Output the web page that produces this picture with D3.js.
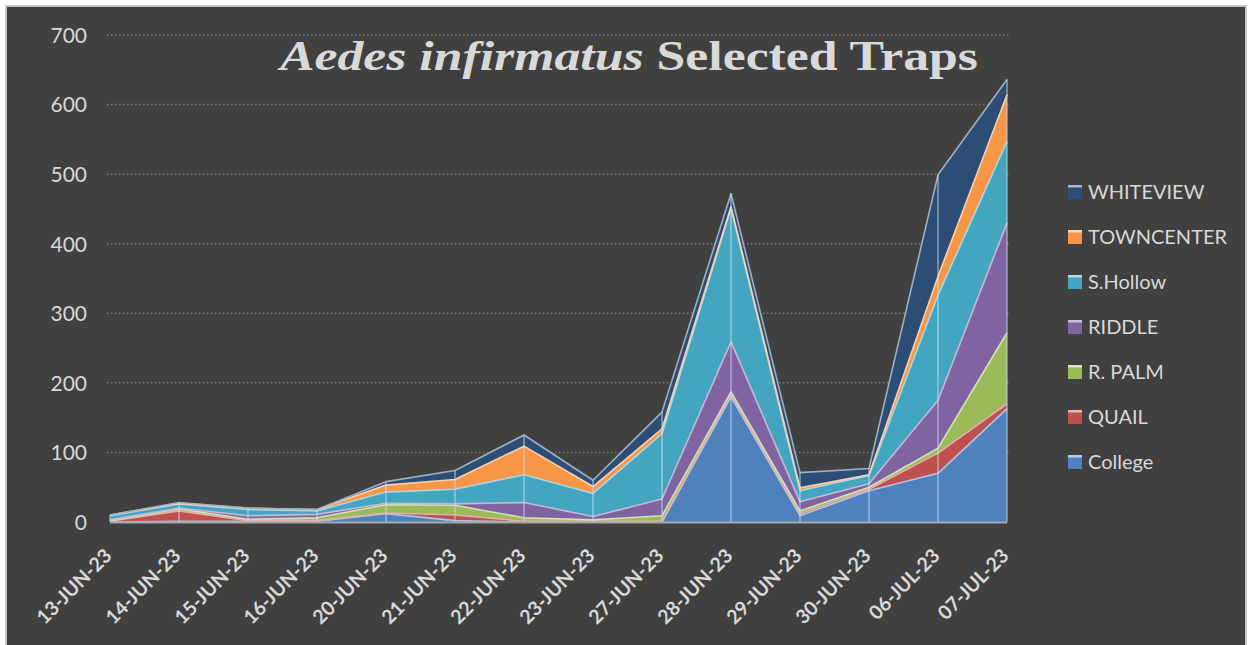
<!DOCTYPE html>
<html>
<head>
<meta charset="utf-8">
<script src="https://cdn.jsdelivr.net/npm/d3@7"></script>
<style>
html,body{margin:0;padding:0;background:#ffffff;}
svg{display:block;}
</style>
</head>
<body>
<svg id="chart" width="1252" height="645"></svg>
<script>
// ---- DATA ----
const categories = ["13-JUN-23","14-JUN-23","15-JUN-23","16-JUN-23","20-JUN-23","21-JUN-23","22-JUN-23","23-JUN-23","27-JUN-23","28-JUN-23","29-JUN-23","30-JUN-23","06-JUL-23","07-JUL-23"];
const seriesNames = ["College","QUAIL","R. PALM","RIDDLE","S.Hollow","TOWNCENTER","WHITEVIEW"];
const college    = [0, 1, 1, 1, 12, 2, 0, 0, 0, 180, 9, 45, 70, 163];
const quail      = [1, 15, 1, 1, 1, 8, 1, 1, 1, 3, 3, 2, 29, 7];
const rpalm      = [1, 3, 2, 4, 12, 14, 5, 2, 8, 4, 4, 3, 7, 102];
const riddle     = [1, 1, 5, 5, 2, 2, 22, 5, 24, 72, 13, 5, 69, 158];
const shollow    = [6, 6, 9, 5, 16, 21, 40, 33, 94, 192, 16, 12, 151, 117];
const towncenter = [1, 1, 2, 2, 10, 14, 41, 10, 7, 2, 4, 1, 27, 67];
const whiteview  = [0, 1, 0, 0, 5, 13, 16, 9, 24, 19, 22, 9, 146, 22];
const yTicks = [0,100,200,300,400,500,600,700];
const colors = ["#4f81bd","#c0504d","#9bbb59","#8064a2","#44a5c0","#f79646","#2c4d75"];

const seriesValues = [college, quail, rpalm, riddle, shollow, towncenter, whiteview];
const table = categories.map((c,i)=>{
  const row = {cat:c};
  seriesNames.forEach((s,j)=>row[s]=seriesValues[j][i]);
  return row;
});

// ---- LAYOUT ----
const svg = d3.select("#chart");
svg.append("rect").attr("x",6).attr("y",6).attr("width",1240).attr("height",660)
  .attr("fill","#404040").attr("stroke","#c4c4c4").attr("stroke-width",2);

const x = d3.scalePoint().domain(categories).range([110,1007]);
const y = d3.scaleLinear().domain([0,700]).range([522,35]);

// gridlines
svg.append("g").selectAll("line").data(yTicks.filter(d=>d>0)).join("line")
  .attr("x1",107).attr("x2",1010)
  .attr("y1",d=>y(d)).attr("y2",d=>y(d))
  .attr("stroke","#7a7a7a").attr("stroke-width",1.5).attr("stroke-dasharray","1.5,2.5");

// y labels
const yAxis = d3.axisLeft(y).tickValues(yTicks).tickSize(0).tickPadding(0);
const gy = svg.append("g").attr("transform","translate(87,0)").call(yAxis);
gy.select(".domain").remove();
gy.selectAll("text").attr("fill","#d9d9d9").attr("font-family","Lato, 'Open Sans', sans-serif")
  .attr("font-size",21).attr("dy","0.35em");

// stacked areas
const stack = d3.stack().keys(seriesNames);
const layers = stack(table);
const area = d3.area().x(d=>x(d.data.cat)).y0(d=>y(d[0])).y1(d=>y(d[1]));
const topLine = d3.line().x(d=>x(d.data.cat)).y(d=>y(d[1]));

const gA = svg.append("g");
layers.forEach((L,i)=>{
  gA.append("path").datum(L).attr("d",area).attr("fill",colors[i]);
});
layers.forEach((L,i)=>{
  const light = d3.interpolateRgb(colors[i],"#ffffff")(0.55);
  gA.append("path").datum(L).attr("d",topLine).attr("fill","none")
    .attr("stroke",light).attr("stroke-width",1.6).attr("stroke-linejoin","round");
});

// drop lines
const totals = table.map(r=>seriesNames.reduce((a,s)=>a+r[s],0));
svg.append("g").selectAll("line").data(categories).join("line")
  .attr("x1",d=>x(d)).attr("x2",d=>x(d))
  .attr("y1",y(0)).attr("y2",(d,i)=>y(totals[i]))
  .attr("stroke","rgba(205,220,240,0.55)").attr("stroke-width",1.6);

// baseline
svg.append("line").attr("x1",x(categories[0])).attr("x2",x(categories[categories.length-1]))
  .attr("y1",y(0)+0.5).attr("y2",y(0)+0.5).attr("stroke","#a6a6a6").attr("stroke-width",2);

// x labels
svg.append("g").selectAll("text").data(categories).join("text")
  .attr("transform",d=>`translate(${x(d)+3},557) rotate(-45)`)
  .attr("text-anchor","end")
  .attr("fill","#d9d9d9").attr("font-family","Lato, 'Open Sans', sans-serif")
  .attr("font-weight","bold").attr("font-size",19.5)
  .text(d=>d);

// legend
const legendOrder = seriesNames.map((s,i)=>({name:s,color:colors[i]})).reverse();
const lg = svg.append("g");
legendOrder.forEach((d,k)=>{
  const cy = 192 + k*45;
  lg.append("rect").attr("x",1068).attr("y",cy-7).attr("width",14).attr("height",14).attr("fill",d.color);
  lg.append("rect").attr("x",1068).attr("y",cy-7).attr("width",14).attr("height",2.5)
    .attr("fill",d3.interpolateRgb(d.color,"#ffffff")(0.6));
  lg.append("text").attr("x",1088).attr("y",cy).attr("dy","0.36em")
    .attr("fill","#d9d9d9").attr("font-family","Lato, 'Open Sans', sans-serif")
    .attr("font-size",20).text(d.name);
});

// title
const title = svg.append("text").attr("x",280).attr("y",70)
  .attr("fill","#d9d9d9").attr("font-family","'Liberation Serif', 'DejaVu Serif', serif")
  .attr("font-weight","bold").attr("font-size",43)
  .attr("textLength",698).attr("lengthAdjust","spacingAndGlyphs");
title.append("tspan").attr("font-style","italic").text("Aedes infirmatus");
title.append("tspan").text(" Selected Traps");
</script>
</body>
</html>
